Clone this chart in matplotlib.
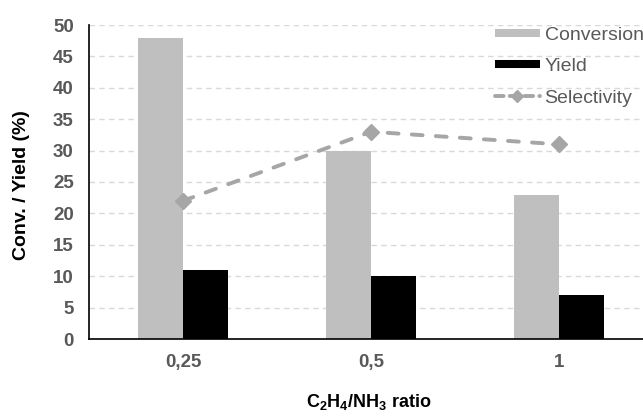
import matplotlib
matplotlib.use("Agg")
import matplotlib.pyplot as plt
from matplotlib.lines import Line2D
import numpy as np

plt.rcParams['font.family'] = ['Liberation Sans', 'DejaVu Sans']
plt.rcParams['mathtext.fontset'] = 'custom'
plt.rcParams['mathtext.rm'] = 'Liberation Sans'
plt.rcParams['mathtext.bf'] = 'Liberation Sans:bold'

categories = ["0,25", "0,5", "1"]
conversion = [48, 30, 23]
yield_ = [11, 10, 7]
selectivity = [22, 33, 31]
yticks = [0, 5, 10, 15, 20, 25, 30, 35, 40, 45, 50]

conv_color = '#bfbfbf'
yield_color = '#000000'
sel_color = '#a6a6a6'
sel_dash = (0, (2.8, 3.4))

fig = plt.figure(figsize=(6.43, 4.16), dpi=100)
ax = fig.add_axes([89/643, 77/416, 564/643, 314/416])

x = np.arange(len(categories))
w = 0.24
ax.bar(x - w/2, conversion, w, color=conv_color, zorder=2)
ax.bar(x + w/2, yield_, w, color=yield_color, zorder=2)
ax.plot(x, selectivity, color=sel_color, linestyle=sel_dash, linewidth=2.8,
        marker='D', markersize=8.5, zorder=3, dash_capstyle='round')

ax.set_xlim(-0.5, 2.5)
ax.set_ylim(0, 50)
ax.set_yticks(yticks)
ax.set_xticks(x)
ax.set_xticklabels(categories)
ax.yaxis.grid(True, color='#d9d9d9', linestyle=(0, (4, 3)), linewidth=1, zorder=0)
ax.set_axisbelow(True)
for s in ['top', 'right']:
    ax.spines[s].set_visible(False)
ax.spines['left'].set_color('black')
ax.spines['bottom'].set_color('black')
ax.spines['left'].set_linewidth(1.2)
ax.spines['bottom'].set_linewidth(1.2)
ax.tick_params(axis='both', length=0, labelsize=13.5, labelcolor='#595959')
ax.tick_params(axis='x', pad=11)
ax.tick_params(axis='y', pad=11)
for lbl in ax.get_xticklabels() + ax.get_yticklabels():
    lbl.set_fontweight('bold')

fig.text(22/643, 1 - 185/416, 'Conv. / Yield (%)', rotation=90, ha='center', va='center',
         fontsize=14, fontweight='bold')
fig.text(369/643, 1 - 402/416, r'$\mathbf{C_2H_4/NH_3}$ ratio', ha='center', va='center',
         fontsize=13, fontweight='bold')

handles = [
    Line2D([], [], color=conv_color, linewidth=5.8, solid_capstyle='butt'),
    Line2D([], [], color=yield_color, linewidth=5.8, solid_capstyle='butt'),
    Line2D([], [], color=sel_color, linewidth=2.8, linestyle=(0, (2.2, 1.6)),
           marker='D', markersize=6, dash_capstyle='round'),
]
labels = ['Conversion', 'Yield', 'Selectivity']
leg = ax.legend(handles, labels, loc='upper left', bbox_to_anchor=(495/643, 1 - 26/416),
                bbox_transform=fig.transFigure, frameon=False, fontsize=14,
                handlelength=2.3, handletextpad=0.25, labelspacing=0.72,
                borderpad=0, borderaxespad=0)
for t in leg.get_texts():
    t.set_color('#595959')

fig.savefig('out.png', dpi=100)
